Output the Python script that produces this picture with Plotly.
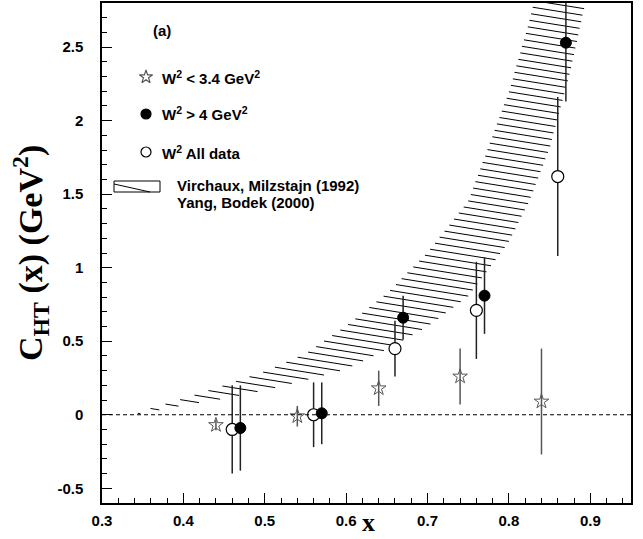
import numpy as np
import plotly.graph_objects as go

# ---------------- data ----------------
x_low = [0.44, 0.54, 0.64, 0.74, 0.84]
y_low = [-0.07, -0.01, 0.18, 0.26, 0.09]
e_low = [0.035, 0.07, 0.12, 0.19, 0.36]

x_high = [0.47, 0.57, 0.67, 0.77, 0.87]
y_high = [-0.09, 0.01, 0.66, 0.81, 2.53]
e_high = [0.29, 0.21, 0.15, 0.26, 0.40]

x_all = [0.46, 0.56, 0.66, 0.76, 0.86]
y_all = [-0.10, 0.00, 0.45, 0.71, 1.62]
e_all = [0.30, 0.22, 0.19, 0.33, 0.54]

band_x = [0.34, 0.35, 0.40, 0.45, 0.50, 0.55, 0.60, 0.65, 0.70, 0.75, 0.80, 0.825, 0.85, 0.875, 0.90, 0.925]
band_up = [0.0, 0.027, 0.11, 0.20, 0.295, 0.415, 0.605, 0.825, 1.105, 1.455, 2.20, 2.68, 3.25, 3.85, 4.45, 5.05]
band_lo = [0.0, 0.010, 0.065, 0.11, 0.167, 0.235, 0.31, 0.445, 0.60, 0.805, 1.175, 1.45, 1.81, 2.32, 2.95, 3.60]

x_ticks = [0.3, 0.4, 0.5, 0.6, 0.7, 0.8, 0.9]
y_ticks = [-0.5, 0, 0.5, 1, 1.5, 2, 2.5]
y_ticktext = ["-0.5", "0", "0.5", "1", "1.5", "2", "2.5"]

# ---------------- layout constants ----------------
W, H = 643, 539
ML, MR, MT, MB = 102, 12, 3, 36
XR = [0.3, 0.95]
YR = [-0.6, 2.8]
PW, PH = W - ML - MR, H - MT - MB
xppu = PW / (XR[1] - XR[0])
yppu = PH / (YR[1] - YR[0])


def px2data(px, py):
    return XR[0] + (px - ML) / xppu, YR[1] - (py - MT) / yppu


def px2paper(px, py):
    return (px - ML) / PW, 1 - (py - MT) / PH


# ---------------- hatch lines for the band ----------------
t_px = 0.16          # hatch slope (pixels down per pixel right)
gap_px = 6.8         # vertical spacing between hatch lines
k = t_px * xppu / yppu
gap = gap_px / yppu
xs = np.arange(band_x[0], band_x[-1], 0.0004)
U = np.minimum(np.interp(xs, band_x, band_up), 3.2)
L = np.interp(xs, band_x, band_lo)
cmin = np.min(L + k * (xs - 0.3))
cmax = np.max(U + k * (xs - 0.3))
hx, hy = [], []
c = cmin + gap * 0.3
while c < cmax:
    yl = c - k * (xs - 0.3)
    inside = (yl <= U) & (yl >= L)
    idx = np.where(inside)[0]
    if idx.size:
        runs = np.split(idx, np.where(np.diff(idx) > 1)[0] + 1)
        for r in runs:
            if r.size >= 2:
                hx += [xs[r[0]], xs[r[-1]], None]
                hy += [yl[r[0]], yl[r[-1]], None]
    c += gap

fig = go.Figure()
fig.add_trace(go.Scatter(x=hx, y=hy, mode="lines",
                         line=dict(color="black", width=1), hoverinfo="skip"))

# ---------------- data series ----------------
fig.add_trace(go.Scatter(
    x=x_low, y=y_low, mode="markers",
    error_y=dict(type="data", array=e_low, width=0, thickness=1.5, color="#555555"),
    marker=dict(symbol="star-open", size=11, color="#555555", line=dict(width=1))))
fig.add_trace(go.Scatter(
    x=x_all, y=y_all, mode="markers",
    error_y=dict(type="data", array=e_all, width=0, thickness=1.5, color="#222222"),
    marker=dict(symbol="circle", size=12, color="white", line=dict(color="black", width=1.2))))
fig.add_trace(go.Scatter(
    x=x_high, y=y_high, mode="markers",
    error_y=dict(type="data", array=e_high, width=0, thickness=1.5, color="#222222"),
    marker=dict(symbol="circle", size=11, color="black", line=dict(color="black", width=1))))

# ---------------- legend (drawn manually) ----------------
leg_sym = [(146, 77, "star-open", "#555555", 10, "white"),
           (146, 114, "circle", "black", 10, "black"),
           (146, 152, "circle", "black", 10, "white")]
for px, py, sym, lc, sz, fc in leg_sym:
    lx, ly = px2data(px, py)
    fig.add_trace(go.Scatter(x=[lx], y=[ly], mode="markers",
                             marker=dict(symbol=sym, size=sz, color=fc if sym == "circle" else lc,
                                         line=dict(color=lc, width=1.2)),
                             hoverinfo="skip"))

font_b = dict(family="Liberation Sans", size=15, color="black", weight="bold")
leg_txt = [(160, 77, "W<sup>2</sup> &lt; 3.4 GeV<sup>2</sup>"),
           (160, 114, "W<sup>2</sup> &gt; 4 GeV<sup>2</sup>"),
           (160, 152, "W<sup>2</sup> All data"),
           (175, 185, "Virchaux, Milzstajn (1992)"),
           (175, 202, "Yang, Bodek (2000)")]
annots = []
for px, py, txt in leg_txt:
    ax, ay = px2paper(px, py)
    annots.append(dict(x=ax, y=ay, xref="paper", yref="paper", text=txt, showarrow=False,
                       xanchor="left", yanchor="middle", font=font_b))
ax, ay = px2paper(162, 30)
annots.append(dict(x=ax, y=ay, xref="paper", yref="paper", text="(a)", showarrow=False,
                   xanchor="center", yanchor="middle", font=font_b))

# axis titles
ax, ay = px2paper(368, 539)
annots.append(dict(x=ax, y=ay, xref="paper", yref="paper", text="<b>x</b>", showarrow=False,
                   xanchor="center", yanchor="bottom",
                   font=dict(family="Liberation Serif", size=26, color="black")))
ax, ay = px2paper(30, 253)
annots.append(dict(x=ax, y=ay, xref="paper", yref="paper",
                   text="<b>C<sub>HT</sub> (x) (GeV<sup>2</sup>)</b>", showarrow=False,
                   textangle=-90, xanchor="center", yanchor="middle",
                   font=dict(family="Liberation Serif", size=34, color="black")))

shapes = []
b0 = px2paper(114, 181)
b1 = px2paper(160, 192)
shapes.append(dict(type="rect", xref="paper", yref="paper", x0=b0[0], y0=b1[1], x1=b1[0], y1=b0[1],
                   line=dict(color="black", width=1)))
d0 = px2paper(114, 184)
d1 = px2paper(150, 192)
shapes.append(dict(type="line", xref="paper", yref="paper", x0=d0[0], y0=d0[1], x1=d1[0], y1=d1[1],
                   line=dict(color="black", width=1)))
shapes.append(dict(type="line", xref="paper", yref="y", x0=0, x1=1, y0=0, y1=0,
                   line=dict(color="black", width=1, dash="4px,3px")))

tickfont = dict(family="Liberation Sans", size=15, color="black", weight="bold")
fig.update_layout(
    width=W, height=H, margin=dict(l=ML, r=MR, t=MT, b=MB, autoexpand=False),
    paper_bgcolor="white", plot_bgcolor="white", showlegend=False,
    annotations=annots, shapes=shapes,
    xaxis=dict(range=XR, tickvals=x_ticks, ticktext=[f"{v:.1f}" for v in x_ticks],
               automargin=False,
               showgrid=False, zeroline=False, showline=True, linecolor="black", linewidth=1.5,
               mirror=True, ticks="inside", ticklen=10, tickwidth=1.2, tickcolor="black",
               minor=dict(dtick=0.02, tick0=0.3, ticks="inside", ticklen=5, tickcolor="black", tickwidth=1),
               tickfont=tickfont, ticklabelstandoff=3),
    yaxis=dict(range=YR, tickvals=y_ticks, ticktext=y_ticktext,
               automargin=False,
               showgrid=False, zeroline=False, showline=True, linecolor="black", linewidth=1.5,
               mirror=True, ticks="inside", ticklen=10, tickwidth=1.2, tickcolor="black",
               minor=dict(dtick=0.1, tick0=0, ticks="inside", ticklen=5, tickcolor="black", tickwidth=1),
               tickfont=tickfont, ticklabelstandoff=14),
)

fig.write_html("out.html", config={"displayModeBar": False},
               post_script="document.body.style.margin='0';document.body.style.overflow='hidden';")
